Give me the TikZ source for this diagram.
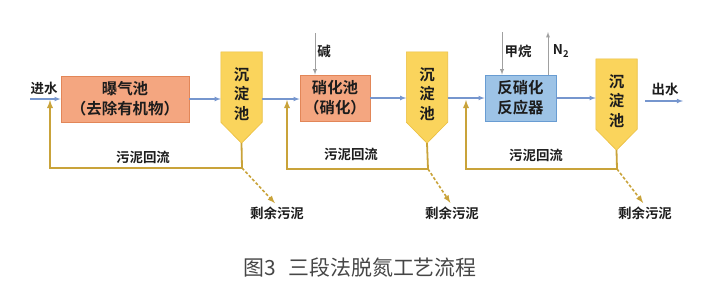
\documentclass[tikz,border=0pt]{standalone}
\usepackage{fontspec}
\setmainfont{Noto Sans CJK SC}[BoldFont={Noto Sans CJK SC Bold}]
\usepackage{xcolor}
\usetikzlibrary{backgrounds}
\definecolor{flowblue}{RGB}{118,150,206}
\definecolor{loopgold}{RGB}{201,163,58}
\definecolor{feedgray}{RGB}{160,160,160}
\definecolor{tankfill}{RGB}{244,166,128}
\definecolor{tankedge}{RGB}{226,134,88}
\definecolor{settfill}{RGB}{250,212,92}
\definecolor{settedge}{RGB}{234,190,64}
\definecolor{reacfill}{RGB}{157,195,230}
\definecolor{reacedge}{RGB}{104,156,210}
\definecolor{inkdark}{RGB}{28,28,28}
\definecolor{capgray}{RGB}{70,70,70}

\begin{document}
\begin{tikzpicture}[x=1bp, y=-1bp,
  tank/.style={rectangle, minimum height=46bp, align=center, inner sep=1bp,
    line width=0.8bp, text=inkdark, font=\bfseries\fontsize{15.5}{20}\selectfont},
  settler/.style={rectangle, minimum width=41bp, minimum height=84bp,
    inner sep=0pt, align=center, text=inkdark,
    font=\bfseries\fontsize{15.5}{19.5}\selectfont},
  settbody/.style={fill=settfill, draw=settedge, line width=0.6bp},
  lbl/.style={inner sep=1bp, text=inkdark, font=\bfseries\fontsize{13.5}{16}\selectfont},
  flow/.style={draw=flowblue, line width=1.1bp, -latex},
  ret/.style={draw=loopgold, line width=1.8bp, -latex},
  waste/.style={draw=loopgold, line width=1.6bp, dash pattern=on 3bp off 2bp, -latex},
  feed/.style={draw=feedgray, line width=0.9bp, -latex}]
  \useasboundingbox (0,0) rectangle (717,293);

  % Tanks and settlers
  \node[tank, fill=tankfill, draw=tankedge, minimum width=128bp] (aer) at (125,99) {曝气池\\（去除有机物）};
  \node[settler] (sa) at (241.5,94) {沉\\淀\\池};
  \node[tank, fill=tankfill, draw=tankedge, minimum width=70bp] (nit) at (335,98) {硝化池\\（硝化）};
  \node[settler] (sb) at (427,94) {沉\\淀\\池};
  \node[tank, fill=reacfill, draw=reacedge, minimum width=71bp] (den) at (520.5,98) {反硝化\\反应器};
  \node[settler] (sc) at (616.5,101) {沉\\淀\\池};

  % Settler outlines with the pointed bottom
  \begin{scope}[on background layer]
    \foreach \s in {sa,sb,sc}
      \path[settbody] (\s.north west) -- (\s.north east) -- ([yshift=14bp]\s.south east)
        -- ([yshift=-7bp]\s.south) coordinate (\s tip) -- ([yshift=14bp]\s.south west) -- cycle;
  \end{scope}

  % Labels
  \node[lbl] (inl) at (44,88) {进水};
  \node[lbl] (outl) at (665,89) {出水};
  \node[lbl] (alk) at (324,51) {碱};
  \node[lbl] (meth) at (518,51) {甲烷};
  \node[lbl] (ntwo) at (561,51) {N\textsubscript{2}};
  \node[lbl] (ra) at (143,157) {污泥回流};
  \node[lbl] (rb) at (351,154) {污泥回流};
  \node[lbl] (rc) at (536,155) {污泥回流};
  \node[lbl] (wa) at (277,213) {剩余污泥};
  \node[lbl] (wb) at (452,213) {剩余污泥};
  \node[lbl] (wc) at (645,213) {剩余污泥};

  % Free ends and corners
  \coordinate (in) at (30,99);
  \coordinate (out) at (683,101);
  \coordinate (ja) at (50,100);
  \coordinate (jb) at (287,100);
  \coordinate (jc) at (466,100);
  \coordinate (ka) at (242,168);
  \coordinate (kb) at (428,169);
  \coordinate (kc) at (617,169);
  \coordinate (alktop) at (315,33);
  \coordinate (methtop) at (502,32);
  \coordinate (ntop) at (548,32);

  % Main water line
  \draw[flow] (in) -- (aer.west);
  \draw[flow] (aer.east) -- (aer.east -| sa.west);
  \draw[flow] (aer.east -| sa.east) -- (aer.east -| nit.west);
  \draw[flow] (nit.east) -- (nit.east -| sb.west);
  \draw[flow] (nit.east -| sb.east) -- (nit.east -| den.west);
  \draw[flow] (den.east) -- (den.east -| sc.west);
  \draw[flow, shorten <=8bp] (sc.east |- out) -- (out);

  % Feeds
  \draw[feed] (alktop) -- (alktop |- nit.north);
  \draw[feed] (methtop) -- (methtop |- den.north);
  \draw[feed] (ntop |- den.north) -- (ntop);

  % Sludge return
  \draw[ret] (satip) -- (ka) -| (ja);
  \draw[ret] (sbtip) -- (kb) -| (jb);
  \draw[ret] (sctip) -- (kc) -| (jc);

  % Excess sludge
  \draw[waste, shorten >=3bp] (ka) -- (wa.north);
  \draw[waste, shorten >=3bp] (kb) -- (wb.north);
  \draw[waste, shorten >=3bp] (kc) -- (wc.north);

  % Caption
  \node[text=capgray, font=\fontsize{21}{24}\selectfont] (cap) at (360,268) {图3\hspace{0.6em}三段法脱氮工艺流程};
\end{tikzpicture}
\end{document}
